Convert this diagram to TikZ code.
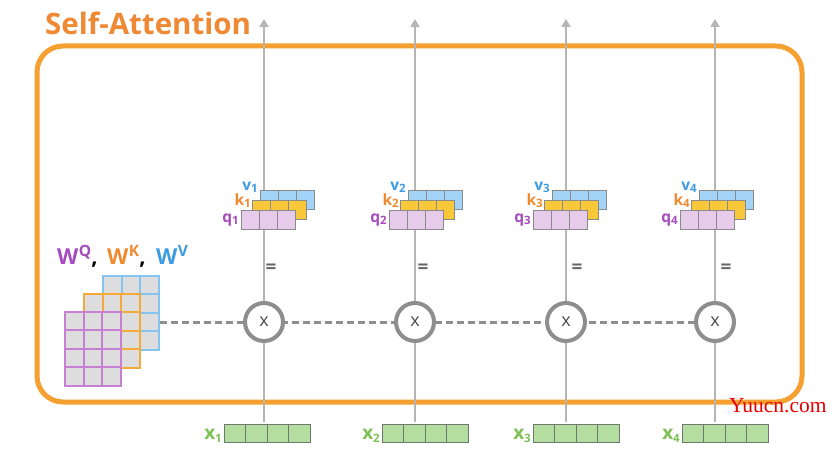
\documentclass[tikz,border=0pt]{standalone}
\usepackage{fontspec}
\setmainfont{Open Sans}
\newfontfamily\wmfont{Liberation Serif}
\usetikzlibrary{arrows.meta}
\definecolor{frameor}{HTML}{F5A031}
\definecolor{titleor}{HTML}{EF8934}
\definecolor{purp}{HTML}{A54BBD}
\definecolor{orng}{HTML}{F08A30}
\definecolor{blu}{HTML}{3D9BE2}
\definecolor{qfill}{HTML}{E6CBEA}
\definecolor{kfill}{HTML}{F8C83A}
\definecolor{vfill}{HTML}{A3D3F6}
\definecolor{cellgray}{HTML}{DDDDDD}
\definecolor{wpurp}{HTML}{C77FD4}
\definecolor{worng}{HTML}{F5A93A}
\definecolor{wblue}{HTML}{85C4F0}
\definecolor{xfill}{HTML}{B3DEA0}
\definecolor{xedge}{HTML}{6F786F}
\definecolor{xgreen}{HTML}{7DC155}
\definecolor{linegray}{HTML}{B5B5B5}
\definecolor{circgray}{HTML}{8E8E8E}
\definecolor{boxedge}{HTML}{8A8A8A}
\newcommand\subl[2]{#1\raisebox{-0.3ex}{\fontsize{11.5}{11.5}\selectfont #2}}
\newcommand\supw[2]{#1\kern0.5pt\raisebox{0.62ex}{\fontsize{15.5}{15.5}\selectfont #2}}
\newcommand\rowcells[5]{%
  \foreach \i in {1,...,#3}{\draw[#5] ({#1+(\i-1)*#4},#2) rectangle ++(#4,18.5);}}
\newcommand\gridcells[3]{%
  \foreach \r in {0,...,3}{\foreach \c in {0,...,2}{\draw[#3] ({#1+\c*18.5},{#2+\r*18.4}) rectangle ++(18.5,18.4);}}}
\tikzset{
  frame/.style={draw=frameor, line width=5pt, rounded corners=26pt},
  flow/.style={draw=linegray, line width=2.2pt, -{Triangle[width=9pt,length=8pt]}},
  joinline/.style={draw=circgray, line width=3pt, dash pattern=on 6.5pt off 4.5pt},
  mult/.style={circle, draw=circgray, line width=4pt, fill=white, minimum size=38pt, inner sep=0pt, text=black!70, font=\fontsize{18}{18}\selectfont},
  eqsign/.style={text=black!60, font=\bfseries\fontsize{19}{19}\selectfont, inner sep=0pt},
  qcell/.style={draw=boxedge, line width=0.9pt, fill=qfill},
  kcell/.style={draw=boxedge, line width=0.9pt, fill=kfill},
  vcell/.style={draw=boxedge, line width=0.9pt, fill=vfill},
  xcell/.style={draw=xedge, line width=0.9pt, fill=xfill},
  wp/.style={draw=wpurp, line width=2pt, fill=cellgray},
  wo/.style={draw=worng, line width=2pt, fill=cellgray},
  wb/.style={draw=wblue, line width=2pt, fill=cellgray},
  vlab/.style={anchor=base east, inner sep=0pt, text=blu, font=\bfseries\fontsize{15.5}{15.5}\selectfont},
  klab/.style={anchor=base east, inner sep=0pt, text=orng, font=\bfseries\fontsize{15.5}{15.5}\selectfont},
  qlab/.style={anchor=base east, inner sep=0pt, text=purp, font=\bfseries\fontsize{15.5}{15.5}\selectfont},
  xlab/.style={anchor=base east, inner sep=0pt, text=xgreen, font=\bfseries\fontsize{19}{19}\selectfont},
}
\begin{document}
\begin{tikzpicture}[x=1pt,y=-1pt]
\path[use as bounding box, fill=white] (0,0) rectangle (840,460);
% title
\node[anchor=base west, inner sep=0pt, text=titleor, font=\bfseries\fontsize{29.5}{30}\selectfont] (title) at (45,34.5) {Self-Attention};
% frame
\draw[frame] (37,46) rectangle (802,402);
% coordinates for the flows
\foreach \k/\xx in {1/264,2/415,3/566,4/715}{
  \coordinate (b\k) at (\xx,422);
  \coordinate (t\k) at (\xx,19);
}
\foreach \k in {1,...,4}{\draw[flow] (b\k) -- (t\k);}
% dashed join line
\coordinate (wr) at (160,322);
\coordinate (m4) at (715,322);
\draw[joinline] (wr) -- (m4);
% multiply circles
\node[mult] (c1) at (264,322) {x};
\node[mult] (c2) at (415,322) {x};
\node[mult] (c3) at (566,322) {x};
\node[mult] (c4) at (715,322) {x};
% equal signs
\node[eqsign] (e1) at (271,269) {=};
\node[eqsign] (e2) at (423,269) {=};
\node[eqsign] (e3) at (577,269) {=};
\node[eqsign] (e4) at (726,269) {=};
% W matrices
\gridcells{103}{276}{wb}
\gridcells{84}{294}{wo}
\gridcells{65}{312}{wp}
\node[anchor=base west, inner sep=0pt, font=\bfseries\fontsize{22}{22}\selectfont] (wlab) at (57,264)
  {\makebox[50pt][l]{\textcolor{purp}{\supw{W}{Q}},}\makebox[49pt][l]{\textcolor{orng}{\supw{W}{K}},}\textcolor{blu}{\supw{W}{V}}};
% q k v stacks
\foreach \k/\qx in {1/241,2/389,3/533,4/680}{
  \rowcells{\qx+19}{190.7}{3}{18.3}{vcell}
  \rowcells{\qx+11}{200.7}{3}{18.3}{kcell}
  \rowcells{\qx}{210.7}{3}{18.3}{qcell}
  \node[vlab] (v\k) at (\qx+17,190) {\subl{v}{\k}};
  \node[klab] (k\k) at (\qx+10,205) {\subl{k}{\k}};
  \node[qlab] (q\k) at (\qx-2,222) {\subl{q}{\k}};
}
% x inputs
\foreach \k/\bx in {1/224,2/382,3/533,4/682}{
  \rowcells{\bx}{424}{4}{21.5}{xcell}
  \node[xlab] (x\k) at (\bx-2,439.5) {\subl{x}{\k}};
}
% watermark
\node[anchor=base west, inner sep=0pt, text=red!90!black, font=\wmfont\fontsize{21.5}{21.5}\selectfont] (wm) at (729,412.5) {Yuucn.com};
\end{tikzpicture}
\end{document}
